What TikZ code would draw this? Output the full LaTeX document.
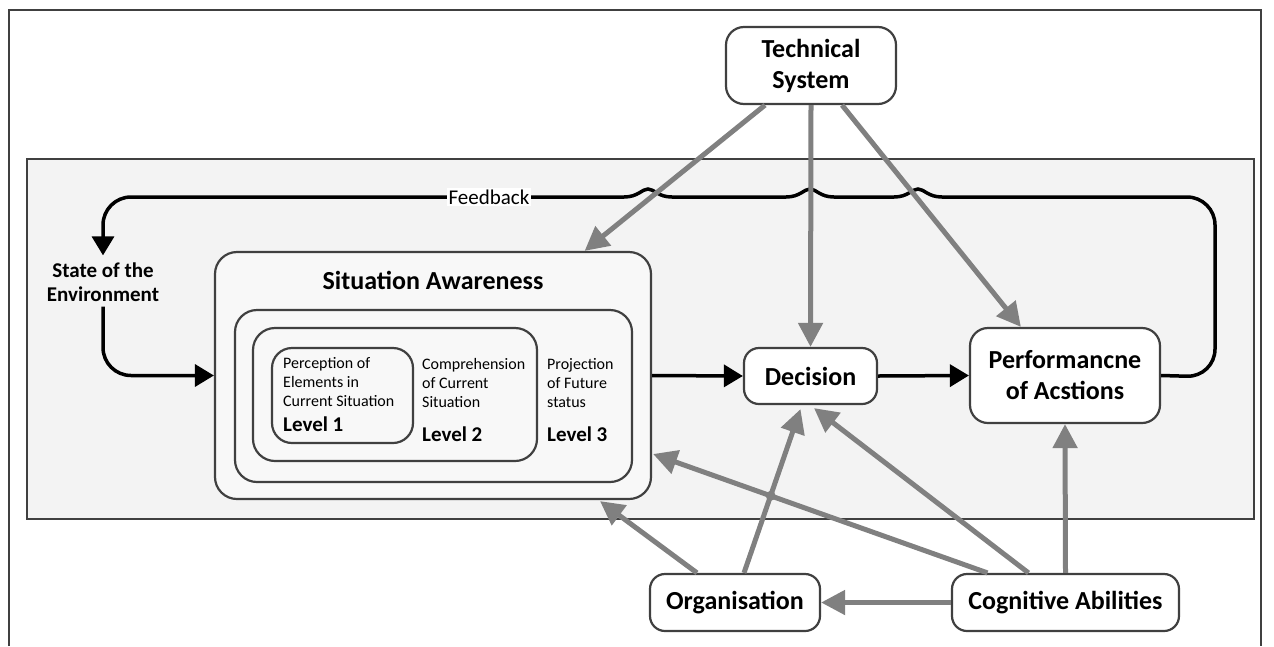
\documentclass[tikz,border=0pt]{standalone}
\usepackage{fontspec}
\setmainfont{Carlito}
\usetikzlibrary{arrows.meta,calc}
\definecolor{arrgray}{RGB}{128,128,128}
\definecolor{bord}{RGB}{64,64,64}
\definecolor{panelfill}{RGB}{243,243,243}
\definecolor{boxfill}{RGB}{248,248,248}
\tikzset{
 rbox/.style={draw=bord, line width=2.2pt, rounded corners=#1, fill=white, inner sep=0pt, align=center, font=\fontsize{26}{31}\selectfont\bfseries},
 rbox/.default=16pt,
 lvlbox/.style={draw=bord, line width=2.2pt, rounded corners=#1, fill=boxfill, inner sep=0pt},
 lvlbox/.default=20pt,
 txt/.style={inner sep=0pt, anchor=west, align=left, font=\fontsize{16}{19}\selectfont},
 lvl/.style={inner sep=0pt, anchor=west, font=\fontsize{21}{25}\selectfont\bfseries},
 garrow/.style={draw=arrgray, line width=5pt, -{Triangle[length=24pt,width=24pt]}},
 barrow/.style={draw=black, line width=3.5pt, -{Triangle[length=19pt,width=22pt]}},
}
\begin{document}
\begin{tikzpicture}[x=1pt,y=-1pt]
\useasboundingbox (0,0) rectangle (1274,646);
% outer frame
\draw[bord, line width=2pt] (9,646) -- (9,10) -- (1261,10) -- (1261,646);
% panel
\node[draw=bord, line width=2pt, fill=panelfill, minimum width=1227pt, minimum height=360pt, inner sep=0pt] (panel) at (640.5,339) {};

% nodes
\node[rbox=18pt, minimum width=170pt, minimum height=77pt] (tech) at (811,65.5) {Technical\\System};
\node[lvlbox=22pt, minimum width=436pt, minimum height=247pt] (sa) at (433,375.5) {};
\node[inner sep=0pt, font=\fontsize{26}{31}\selectfont\bfseries] (satitle) at (433,280) {Situation Awareness};
\node[lvlbox=22pt, minimum width=397pt, minimum height=172pt] (box1) at (433.5,396) {};
\node[lvlbox=22pt, minimum width=284pt, minimum height=133pt] (box2) at (395,394.5) {};
\node[lvlbox=20pt, minimum width=141pt, minimum height=95pt] (box3) at (342.5,395.5) {};
\node[txt] (t1txt) at (283,382) {Perception of\\Elements in\\Current Situation};
\node[lvl] (l1) at (283,424) {Level 1};
\node[txt] (t2txt) at (422,383) {Comprehension\\of Current\\Situation};
\node[lvl] (l2) at (422,434) {Level 2};
\node[txt] (t3txt) at (547,383) {Projection\\of Future\\status};
\node[lvl] (l3) at (547,434) {Level 3};

\node[rbox=15pt, minimum width=133pt, minimum height=56pt] (dec) at (810.5,376) {Decision};
\node[rbox=18pt, minimum width=190pt, minimum height=95pt] (perf) at (1065,375.5) {Performancne\\of Acstions};
\node[rbox=15pt, minimum width=170pt, minimum height=57pt] (org) at (735,602.5) {Organisation};
\node[rbox=15pt, minimum width=227pt, minimum height=57pt] (cog) at (1065.5,602.5) {Cognitive Abilities};
\node[inner sep=0pt, align=center, font=\fontsize{21}{24}\selectfont\bfseries] (env) at (103,282) {State of the\\Environment};

% feedback loop
\draw[barrow, rounded corners=28pt, shorten >=7pt]
  (perf.east) -- (1215,377) -- (1215,197) -- (1100,197) [sharp corners]
  -- (942,197) .. controls (928,197) and (924,189) .. (918,189) .. controls (912,189) and (908,197) .. (894,197)
  -- (834,197) .. controls (820,197) and (816,189) .. (810,189) .. controls (804,189) and (800,197) .. (786,197)
  -- (672,197) .. controls (658,197) and (654,189) .. (648,189) .. controls (642,189) and (638,197) .. (624,197)
  -- (300,197) [rounded corners=28pt] -- (103,197) -- (env.north);
\node[fill=white, inner sep=1.5pt, font=\fontsize{21}{25}\selectfont] (fb) at (489,197) {Feedback};

% environment to SA
\draw[barrow, rounded corners=28pt, shorten <=5pt] (env.south) -- (env.south |- sa.west) -- (sa.west);
% main chain
\draw[barrow] (sa.east) -- (dec.west);
\draw[barrow] (dec.east) -- (perf.west);

% gray influence arrows
\coordinate (ta) at ($(tech.south)+(-46,0)$);
\coordinate (sa1) at ($(sa.north west)!0.846!(sa.north east)$);
\coordinate (tc) at ($(tech.south)+(31,0)$);
\coordinate (pa) at ($(perf.north west)+(52,0)$);
\coordinate (c2) at ($(cog.north)+(-37,0)$);
\coordinate (d2) at ($(dec.south)+(3.5,3)$);
\coordinate (c3) at ($(cog.north)+(-78,0)$);
\coordinate (s3) at ($(sa.east)+(1,78.5)$);
\coordinate (o1) at ($(org.north)+(9,0)$);
\coordinate (d1) at ($(dec.south)+(-10,4)$);
\coordinate (o2) at ($(org.north)+(-38,0)$);
\coordinate (s2) at ($(sa.south)+(167,1)$);
\coordinate (X) at (intersection of c3--s3 and o1--d1);

\draw[garrow] (ta) -- (sa1);
\draw[garrow] (tech.south) -- (dec.north);
\draw[garrow] (tc) -- (pa);
\draw[garrow] (cog.north) -- (perf.south);
\draw[garrow] (c2) -- (d2);
\draw[garrow] (c3) -- (s3);
\draw[garrow] (o1) -- (d1);
\fill[arrgray] (X) circle (5pt);
\draw[garrow] (o2) -- (s2);
\draw[garrow] (cog.west) -- (org.east);
\end{tikzpicture}
\end{document}
